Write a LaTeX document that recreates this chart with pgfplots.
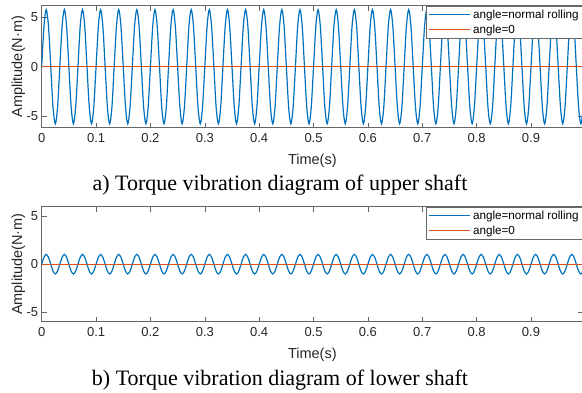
\documentclass[border=0pt]{standalone}
\usepackage{pgfplots}
\pgfplotsset{compat=1.18}
\usepackage{pgfplotstable}
\usepackage{fontspec}
\setmainfont{Liberation Sans}
\newfontfamily\capfont{Liberation Serif}
\definecolor{mblue}{rgb}{0,0.447,0.741}
\definecolor{morange}{rgb}{0.85,0.325,0.098}
\definecolor{axgray}{rgb}{0.4,0.4,0.4}

\pgfplotstableread[row sep=\\]{
t u l\\
0.0000 0 0\\ 0.0042 4.10 0.72\\ 0.0083 5.80 1.02\\ 0.0125 4.10 0.72\\ 0.0167 0 0\\ 0.0208 -4.10 -0.72\\ 0.0250 -5.80 -1.02\\ 0.0292 -4.10 -0.72\\
0.0333 0 0\\ 0.0375 4.10 0.72\\ 0.0417 5.80 1.02\\ 0.0458 4.10 0.72\\ 0.0500 0 0\\ 0.0542 -4.10 -0.72\\ 0.0583 -5.80 -1.02\\ 0.0625 -4.10 -0.72\\
0.0667 0 0\\ 0.0708 4.10 0.72\\ 0.0750 5.80 1.02\\ 0.0792 4.10 0.72\\ 0.0833 0 0\\ 0.0875 -4.10 -0.72\\ 0.0917 -5.80 -1.02\\ 0.0958 -4.10 -0.72\\
0.1000 0 0\\ 0.1042 4.10 0.72\\ 0.1083 5.80 1.02\\ 0.1125 4.10 0.72\\ 0.1167 0 0\\ 0.1208 -4.10 -0.72\\ 0.1250 -5.80 -1.02\\ 0.1292 -4.10 -0.72\\
0.1333 0 0\\ 0.1375 4.10 0.72\\ 0.1417 5.80 1.02\\ 0.1458 4.10 0.72\\ 0.1500 0 0\\ 0.1542 -4.10 -0.72\\ 0.1583 -5.80 -1.02\\ 0.1625 -4.10 -0.72\\
0.1667 0 0\\ 0.1708 4.10 0.72\\ 0.1750 5.80 1.02\\ 0.1792 4.10 0.72\\ 0.1833 0 0\\ 0.1875 -4.10 -0.72\\ 0.1917 -5.80 -1.02\\ 0.1958 -4.10 -0.72\\
0.2000 0 0\\ 0.2042 4.10 0.72\\ 0.2083 5.80 1.02\\ 0.2125 4.10 0.72\\ 0.2167 0 0\\ 0.2208 -4.10 -0.72\\ 0.2250 -5.80 -1.02\\ 0.2292 -4.10 -0.72\\
0.2333 0 0\\ 0.2375 4.10 0.72\\ 0.2417 5.80 1.02\\ 0.2458 4.10 0.72\\ 0.2500 0 0\\ 0.2542 -4.10 -0.72\\ 0.2583 -5.80 -1.02\\ 0.2625 -4.10 -0.72\\
0.2667 0 0\\ 0.2708 4.10 0.72\\ 0.2750 5.80 1.02\\ 0.2792 4.10 0.72\\ 0.2833 0 0\\ 0.2875 -4.10 -0.72\\ 0.2917 -5.80 -1.02\\ 0.2958 -4.10 -0.72\\
0.3000 0 0\\ 0.3042 4.10 0.72\\ 0.3083 5.80 1.02\\ 0.3125 4.10 0.72\\ 0.3167 0 0\\ 0.3208 -4.10 -0.72\\ 0.3250 -5.80 -1.02\\ 0.3292 -4.10 -0.72\\
0.3333 0 0\\ 0.3375 4.10 0.72\\ 0.3417 5.80 1.02\\ 0.3458 4.10 0.72\\ 0.3500 0 0\\ 0.3542 -4.10 -0.72\\ 0.3583 -5.80 -1.02\\ 0.3625 -4.10 -0.72\\
0.3667 0 0\\ 0.3708 4.10 0.72\\ 0.3750 5.80 1.02\\ 0.3792 4.10 0.72\\ 0.3833 0 0\\ 0.3875 -4.10 -0.72\\ 0.3917 -5.80 -1.02\\ 0.3958 -4.10 -0.72\\
0.4000 0 0\\ 0.4042 4.10 0.72\\ 0.4083 5.80 1.02\\ 0.4125 4.10 0.72\\ 0.4167 0 0\\ 0.4208 -4.10 -0.72\\ 0.4250 -5.80 -1.02\\ 0.4292 -4.10 -0.72\\
0.4333 0 0\\ 0.4375 4.10 0.72\\ 0.4417 5.80 1.02\\ 0.4458 4.10 0.72\\ 0.4500 0 0\\ 0.4542 -4.10 -0.72\\ 0.4583 -5.80 -1.02\\ 0.4625 -4.10 -0.72\\
0.4667 0 0\\ 0.4708 4.10 0.72\\ 0.4750 5.80 1.02\\ 0.4792 4.10 0.72\\ 0.4833 0 0\\ 0.4875 -4.10 -0.72\\ 0.4917 -5.80 -1.02\\ 0.4958 -4.10 -0.72\\
0.5000 0 0\\ 0.5042 4.10 0.72\\ 0.5083 5.80 1.02\\ 0.5125 4.10 0.72\\ 0.5167 0 0\\ 0.5208 -4.10 -0.72\\ 0.5250 -5.80 -1.02\\ 0.5292 -4.10 -0.72\\
0.5333 0 0\\ 0.5375 4.10 0.72\\ 0.5417 5.80 1.02\\ 0.5458 4.10 0.72\\ 0.5500 0 0\\ 0.5542 -4.10 -0.72\\ 0.5583 -5.80 -1.02\\ 0.5625 -4.10 -0.72\\
0.5667 0 0\\ 0.5708 4.10 0.72\\ 0.5750 5.80 1.02\\ 0.5792 4.10 0.72\\ 0.5833 0 0\\ 0.5875 -4.10 -0.72\\ 0.5917 -5.80 -1.02\\ 0.5958 -4.10 -0.72\\
0.6000 0 0\\ 0.6042 4.10 0.72\\ 0.6083 5.80 1.02\\ 0.6125 4.10 0.72\\ 0.6167 0 0\\ 0.6208 -4.10 -0.72\\ 0.6250 -5.80 -1.02\\ 0.6292 -4.10 -0.72\\
0.6333 0 0\\ 0.6375 4.10 0.72\\ 0.6417 5.80 1.02\\ 0.6458 4.10 0.72\\ 0.6500 0 0\\ 0.6542 -4.10 -0.72\\ 0.6583 -5.80 -1.02\\ 0.6625 -4.10 -0.72\\
0.6667 0 0\\ 0.6708 4.10 0.72\\ 0.6750 5.80 1.02\\ 0.6792 4.10 0.72\\ 0.6833 0 0\\ 0.6875 -4.10 -0.72\\ 0.6917 -5.80 -1.02\\ 0.6958 -4.10 -0.72\\
0.7000 0 0\\ 0.7042 4.10 0.72\\ 0.7083 5.80 1.02\\ 0.7125 4.10 0.72\\ 0.7167 0 0\\ 0.7208 -4.10 -0.72\\ 0.7250 -5.80 -1.02\\ 0.7292 -4.10 -0.72\\
0.7333 0 0\\ 0.7375 4.10 0.72\\ 0.7417 5.80 1.02\\ 0.7458 4.10 0.72\\ 0.7500 0 0\\ 0.7542 -4.10 -0.72\\ 0.7583 -5.80 -1.02\\ 0.7625 -4.10 -0.72\\
0.7667 0 0\\ 0.7708 4.10 0.72\\ 0.7750 5.80 1.02\\ 0.7792 4.10 0.72\\ 0.7833 0 0\\ 0.7875 -4.10 -0.72\\ 0.7917 -5.80 -1.02\\ 0.7958 -4.10 -0.72\\
0.8000 0 0\\ 0.8042 4.10 0.72\\ 0.8083 5.80 1.02\\ 0.8125 4.10 0.72\\ 0.8167 0 0\\ 0.8208 -4.10 -0.72\\ 0.8250 -5.80 -1.02\\ 0.8292 -4.10 -0.72\\
0.8333 0 0\\ 0.8375 4.10 0.72\\ 0.8417 5.80 1.02\\ 0.8458 4.10 0.72\\ 0.8500 0 0\\ 0.8542 -4.10 -0.72\\ 0.8583 -5.80 -1.02\\ 0.8625 -4.10 -0.72\\
0.8667 0 0\\ 0.8708 4.10 0.72\\ 0.8750 5.80 1.02\\ 0.8792 4.10 0.72\\ 0.8833 0 0\\ 0.8875 -4.10 -0.72\\ 0.8917 -5.80 -1.02\\ 0.8958 -4.10 -0.72\\
0.9000 0 0\\ 0.9042 4.10 0.72\\ 0.9083 5.80 1.02\\ 0.9125 4.10 0.72\\ 0.9167 0 0\\ 0.9208 -4.10 -0.72\\ 0.9250 -5.80 -1.02\\ 0.9292 -4.10 -0.72\\
0.9333 0 0\\ 0.9375 4.10 0.72\\ 0.9417 5.80 1.02\\ 0.9458 4.10 0.72\\ 0.9500 0 0\\ 0.9542 -4.10 -0.72\\ 0.9583 -5.80 -1.02\\ 0.9625 -4.10 -0.72\\
0.9667 0 0\\ 0.9708 4.10 0.72\\ 0.9750 5.80 1.02\\ 0.9792 4.10 0.72\\ 0.9833 0 0\\ 0.9875 -4.10 -0.72\\ 0.9917 -5.80 -1.02\\ 0.9958 -4.10 -0.72\\
1.0000 0 0\\
}\data

\pgfplotsset{mstyle/.style={
  scale only axis, width=541.3pt, xmin=0, xmax=0.9956,
  xtick={0,0.1,0.2,0.3,0.4,0.5,0.6,0.7,0.8,0.9},
  ytick={-5,0,5},
  tick align=inside, major tick length=5pt,
  axis line style={axgray, line width=0.6pt},
  tick style={axgray, line width=0.6pt},
  tick label style={font=\fontsize{13}{15}\selectfont, text=black!85},
  xticklabel style={yshift=-2pt},
  /pgf/number format/assume math mode=true,
  label style={font=\fontsize{14.5}{17}\selectfont, text=black!85},
  xlabel={Time(s)}, ylabel={Amplitude(N·m)},
  xlabel style={at={(axis description cs:0.5,0)}, anchor=center, yshift=-33pt},
  ylabel style={at={(axis description cs:-0.0432,0.5)}, anchor=center},
  legend style={at={(axis description cs:1,1)}, anchor=north east, draw=axgray,
    font=\fontsize{11.7}{13}\selectfont, inner xsep=1.7pt, inner ysep=1.5pt,
    nodes={inner sep=2.4pt}, column sep=0pt},
  legend cell align=left,
  legend image code/.code={\draw[#1, line width=1.3pt] (0pt,0pt) -- (41pt,0pt);},
}}

\begin{document}
\begin{tikzpicture}
\useasboundingbox (0,0) rectangle (582pt,392pt);
\begin{axis}[mstyle, at={(41.7pt,264.3pt)}, anchor=south west, height=122pt, ymin=-6.2, ymax=6.2]
\addplot[draw=mblue, line width=1.2pt, smooth] table[x=t, y=u] {\data};
\addlegendentry{angle=normal rolling}
\addplot[draw=morange, line width=1.2pt] coordinates {(0,0) (1,0)};
\addlegendentry{angle=0}
\end{axis}
\begin{axis}[mstyle, at={(41.7pt,70.3pt)}, anchor=south west, height=115pt, ymin=-6, ymax=6]
\addplot[draw=mblue, line width=1.2pt, smooth] table[x=t, y=l] {\data};
\addlegendentry{angle=normal rolling}
\addplot[draw=morange, line width=1.2pt] coordinates {(0,0) (1,0)};
\addlegendentry{angle=0}
\end{axis}
\node[anchor=base, font=\capfont\fontsize{22}{26}\selectfont] at (280pt,202pt) {a) Torque vibration diagram of upper shaft};
\node[anchor=base, font=\capfont\fontsize{22}{26}\selectfont] at (280pt,7pt) {b) Torque vibration diagram of lower shaft};
\end{tikzpicture}
\end{document}
